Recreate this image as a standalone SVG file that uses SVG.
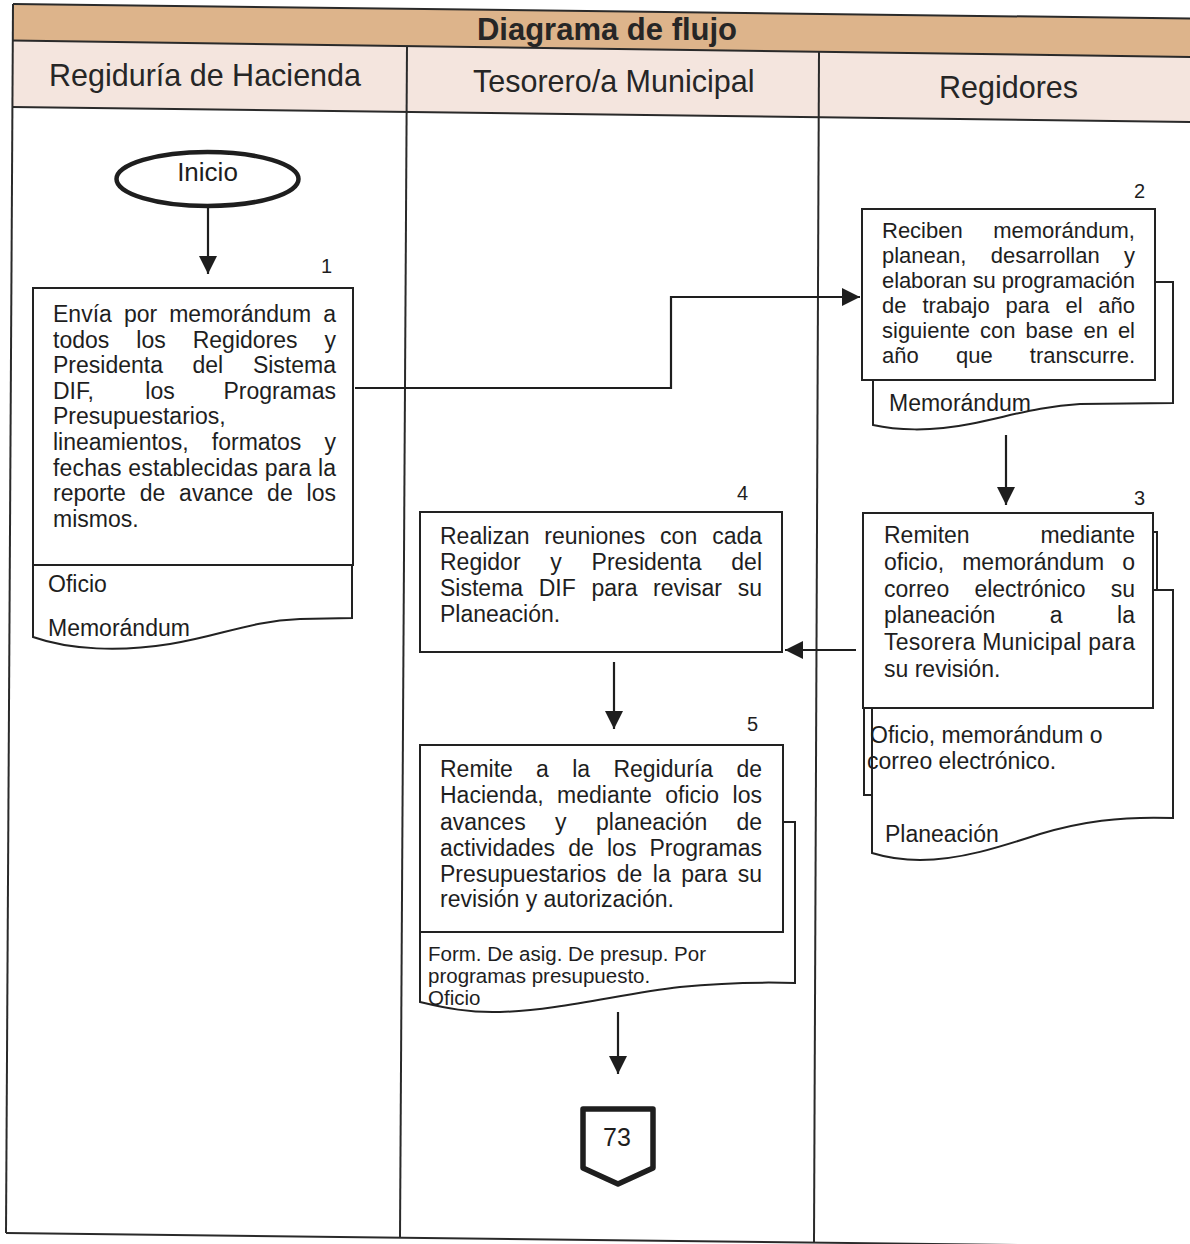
<svg xmlns="http://www.w3.org/2000/svg" width="1190" height="1244" viewBox="0 0 1190 1244">
  <style>
    .t { font-family: "Liberation Sans", Arial, sans-serif; font-size: 23px; fill: #1e1e1e; }
    .t22 { font-size: 22px; }
    .sm { font-family: "Liberation Sans", Arial, sans-serif; font-size: 20.5px; fill: #1e1e1e; }
    .num { font-family: "Liberation Sans", Arial, sans-serif; font-size: 20px; fill: #1e1e1e; }
    .hdr { font-family: "Liberation Sans", Arial, sans-serif; font-size: 30.5px; fill: #262626; }
    .ttl { font-family: "Liberation Sans", Arial, sans-serif; font-size: 31px; font-weight: bold; fill: #262626; }
    .grid { stroke: #2a2a2a; stroke-width: 2; fill: none; }
    .box { fill: #fff; stroke: #222; stroke-width: 2; }
    .doc { fill: #fff; stroke: #222; stroke-width: 2; stroke-linejoin: miter; }
    .flow { fill: none; stroke: #1e1e1e; stroke-width: 2.2; marker-end: url(#arrow); }
    .e { text-anchor: end; }
  </style>
  <defs>
    <marker id="arrow" markerUnits="userSpaceOnUse" markerWidth="18" markerHeight="18" viewBox="0 0 10 10" refX="10" refY="5" orient="auto">
      <path d="M0,0 L10,5 L0,10 Z" fill="#1e1e1e"/>
    </marker>
  </defs>

  <rect width="1190" height="1244" fill="#ffffff"/>

  <!-- swimlane table -->
  <g id="table">
    <polygon points="13,4 1190,18.5 1190,57 12.5,40.5" fill="#ddb48b"/>
    <polygon points="12.5,40.5 1190,57 1190,122 12,107" fill="#f4e5de"/>
    <line class="grid" x1="13" y1="4" x2="1190" y2="18.5"/>
    <line class="grid" x1="12.5" y1="40.5" x2="1190" y2="57"/>
    <line class="grid" x1="12" y1="107" x2="1190" y2="122"/>
    <line class="grid" x1="6" y1="1233" x2="1190" y2="1247"/>
    <line class="grid" x1="13" y1="4" x2="6" y2="1233"/>
    <line class="grid" x1="407" y1="46" x2="400" y2="1238"/>
    <line class="grid" x1="819" y1="51" x2="814" y2="1242"/>
    <text class="ttl" x="607" y="40" text-anchor="middle">Diagrama de flujo</text>
    <text class="hdr" x="49" y="86">Regiduría de Hacienda</text>
    <text class="hdr" x="473" y="92">Tesorero/a Municipal</text>
    <text class="hdr" x="939" y="98">Regidores</text>
  </g>

  <!-- connectors -->
  <g id="connectors">
    <path class="flow" d="M208,207 V274"/>
    <path class="flow" d="M355,388 H671 V297 H860"/>
    <path class="flow" d="M1006,435 V505"/>
    <path class="flow" d="M856,650 H785"/>
    <path class="flow" d="M614,662 V729"/>
    <path class="flow" d="M618,1012 V1074"/>
  </g>

  <!-- start terminator -->
  <g id="inicio">
    <ellipse cx="207.5" cy="179" rx="91" ry="27" fill="#fff" stroke="#1e1e1e" stroke-width="4.5"/>
    <text class="t" x="207.5" y="181" text-anchor="middle" style="font-size:26px">Inicio</text>
  </g>

  <!-- step 1 -->
  <g id="step1">
    <text class="num" x="321" y="273">1</text>
    <path class="doc" d="M33,565 V637 C70,650 120,652 170,644 C220,636 250,621 300,619 L352,618 V565"/>
    <rect class="box" x="33" y="288" width="320" height="277"/>
    <text class="t" y="322"><tspan x="53">Envía</tspan><tspan x="123.9">por</tspan><tspan x="169.2">memorándum</tspan></text>
    <text class="t e" x="336" y="322">a</text>
    <text class="t" y="347.6"><tspan x="53">todos</tspan><tspan x="136.3">los</tspan><tspan x="192.7">Regidores</tspan></text>
    <text class="t e" x="336" y="347.6">y</text>
    <text class="t" y="373.2"><tspan x="53">Presidenta</tspan><tspan x="192.5">del</tspan></text>
    <text class="t e" x="336" y="373.2">Sistema</text>
    <text class="t" y="398.8"><tspan x="53">DIF,</tspan><tspan x="145.3">los</tspan></text>
    <text class="t e" x="336" y="398.8">Programas</text>
    <text class="t" x="53" y="424.4">Presupuestarios,</text>
    <text class="t" y="450"><tspan x="53">lineamientos,</tspan><tspan x="211.8">formatos</tspan></text>
    <text class="t e" x="336" y="450">y</text>
    <text class="t" x="53" y="475.6" textLength="283" lengthAdjust="spacing">fechas establecidas para la</text>
    <text class="t" y="501.2"><tspan x="53">reporte</tspan><tspan x="139.7">de</tspan><tspan x="179.1">avance</tspan><tspan x="267.1">de</tspan></text>
    <text class="t e" x="336" y="501.2">los</text>
    <text class="t" x="53" y="526.8">mismos.</text>
    <text class="t" x="48" y="592">Oficio</text>
    <text class="t" x="48" y="636">Memorándum</text>
  </g>

  <!-- step 2 -->
  <g id="step2">
    <text class="num" x="1134" y="198">2</text>
    <path class="doc" d="M873,282 H1173 V403 L1080,404 C1040,406 1010,416 970,424 C930,432 895,430 873,425 Z"/>
    <rect class="box" x="862" y="209" width="293" height="171"/>
    <text class="t t22" x="882" y="238">Reciben</text>
    <text class="t t22 e" x="1135" y="238">memorándum,</text>
    <text class="t t22" y="263"><tspan x="882">planean,</tspan><tspan x="990.8">desarrollan</tspan></text>
    <text class="t t22 e" x="1135" y="263">y</text>
    <text class="t t22" x="882" y="288" textLength="253" lengthAdjust="spacing">elaboran su programación</text>
    <text class="t t22" y="313"><tspan x="882">de</tspan><tspan x="922.4">trabajo</tspan><tspan x="1005.5">para</tspan><tspan x="1065.4">el</tspan></text>
    <text class="t t22 e" x="1135" y="313">año</text>
    <text class="t t22" y="338"><tspan x="882">siguiente</tspan><tspan x="980.1">con</tspan><tspan x="1025.6">base</tspan><tspan x="1083.4">en</tspan></text>
    <text class="t t22 e" x="1135" y="338">el</text>
    <text class="t t22" y="363"><tspan x="882">año</tspan><tspan x="956">que</tspan></text>
    <text class="t t22 e" x="1135" y="363">transcurre.</text>
    <text class="t" x="889" y="411">Memorándum</text>
  </g>

  <!-- step 3 -->
  <g id="step3">
    <text class="num" x="1134" y="505">3</text>
    <rect class="doc" x="864" y="532" width="293" height="263"/>
    <path class="doc" d="M872,590 H1173 V818 C1120,816 1080,822 1040,834 C1000,847 960,860 920,860 C900,860 885,857 872,853 Z"/>
    <rect class="box" x="863" y="513" width="290" height="195"/>
    <text class="t" x="884" y="543">Remiten</text>
    <text class="t e" x="1135" y="543">mediante</text>
    <text class="t" y="569.8"><tspan x="884">oficio,</tspan><tspan x="962.2">memorándum</tspan></text>
    <text class="t e" x="1135" y="569.8">o</text>
    <text class="t" y="596.6"><tspan x="884">correo</tspan><tspan x="974.4">electrónico</tspan></text>
    <text class="t e" x="1135" y="596.6">su</text>
    <text class="t" y="623.4"><tspan x="884">planeación</tspan><tspan x="1049.7">a</tspan></text>
    <text class="t e" x="1135" y="623.4">la</text>
    <text class="t" x="884" y="650.2" textLength="251" lengthAdjust="spacing">Tesorera Municipal para</text>
    <text class="t" x="884" y="677">su revisión.</text>
    <text class="t" x="870" y="743">Oficio, memorándum o</text>
    <text class="t" x="867" y="769">correo electrónico.</text>
    <text class="t" x="885" y="842">Planeación</text>
  </g>

  <!-- step 4 -->
  <g id="step4">
    <text class="num" x="737" y="500">4</text>
    <rect class="box" x="420" y="512" width="362" height="140"/>
    <text class="t" y="544"><tspan x="440">Realizan</tspan><tspan x="544.3">reuniones</tspan><tspan x="660.1">con</tspan></text>
    <text class="t e" x="762" y="544">cada</text>
    <text class="t" y="570"><tspan x="440">Regidor</tspan><tspan x="550.3">y</tspan><tspan x="591.6">Presidenta</tspan></text>
    <text class="t e" x="762" y="570">del</text>
    <text class="t" y="596"><tspan x="440">Sistema</tspan><tspan x="538.7">DIF</tspan><tspan x="591.4">para</tspan><tspan x="653">revisar</tspan></text>
    <text class="t e" x="762" y="596">su</text>
    <text class="t" x="440" y="622">Planeación.</text>
  </g>

  <!-- step 5 -->
  <g id="step5">
    <text class="num" x="747" y="731">5</text>
    <path class="doc" d="M420,822 H795 V983 C760,982 720,983 680,987 C620,994 560,1010 500,1012 C470,1013 445,1008 420,1002 Z"/>
    <rect class="box" x="420" y="745" width="363" height="187"/>
    <text class="t" y="777"><tspan x="440">Remite</tspan><tspan x="536.1">a</tspan><tspan x="572.2">la</tspan><tspan x="613.4">Regiduría</tspan></text>
    <text class="t e" x="762" y="777">de</text>
    <text class="t" y="803"><tspan x="440">Hacienda,</tspan><tspan x="557.1">mediante</tspan><tspan x="665.3">oficio</tspan></text>
    <text class="t e" x="762" y="803">los</text>
    <text class="t" y="829.5"><tspan x="440">avances</tspan><tspan x="555.1">y</tspan><tspan x="596">planeación</tspan></text>
    <text class="t e" x="762" y="829.5">de</text>
    <text class="t" y="856"><tspan x="440">actividades</tspan><tspan x="568.2">de</tspan><tspan x="607">los</tspan></text>
    <text class="t e" x="762" y="856">Programas</text>
    <text class="t" y="882"><tspan x="440">Presupuestarios</tspan><tspan x="616.7">de</tspan><tspan x="652.8">la</tspan><tspan x="681.2">para</tspan></text>
    <text class="t e" x="762" y="882">su</text>
    <text class="t" x="440" y="907">revisión y autorización.</text>
    <text class="sm" x="428" y="961">Form. De asig. De presup. Por</text>
    <text class="sm" x="428" y="983">programas presupuesto.</text>
    <text class="sm" x="428" y="1005">Oficio</text>
  </g>

  <!-- off-page connector -->
  <g id="page73">
    <path d="M583,1109 H653 V1168 L618,1184 L583,1168 Z" fill="#fff" stroke="#1e1e1e" stroke-width="5.5" stroke-linejoin="round"/>
    <text class="t" x="617" y="1146" text-anchor="middle" style="font-size:25px">73</text>
  </g>
</svg>
